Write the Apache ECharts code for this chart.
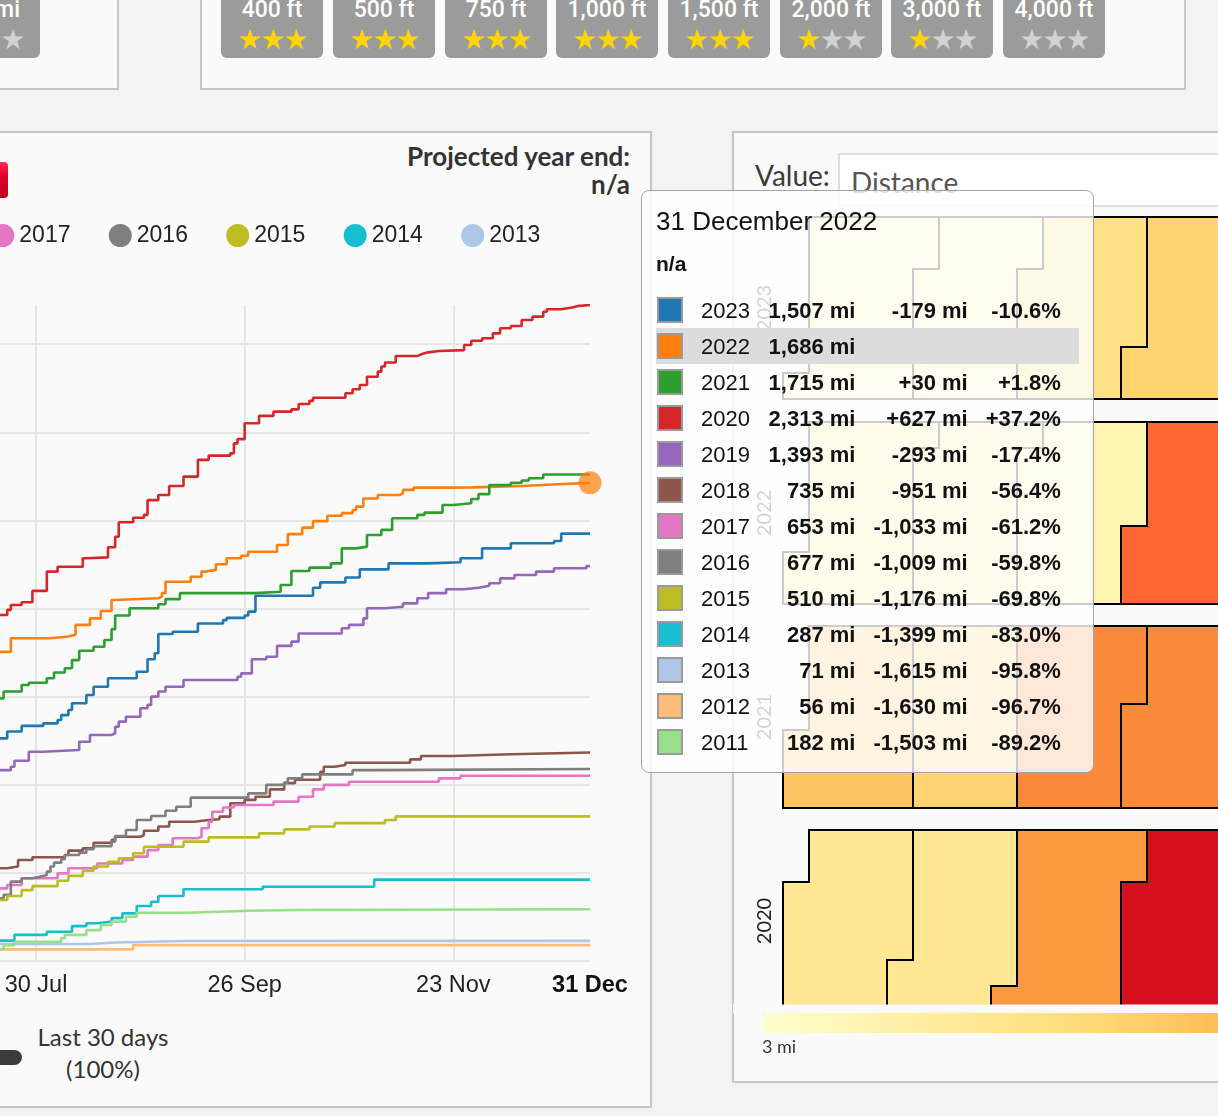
<!DOCTYPE html>
<html>
<head>
<meta charset="utf-8">
<title>Distance by year</title>
<script src="https://cdn.jsdelivr.net/npm/echarts@6.0.0/dist/echarts.min.js"></script>
<style>
html,body{margin:0;padding:0;}
body{width:1218px;height:1116px;overflow:hidden;position:relative;background:#f3f3f3;font-family:Lato,'Open Sans',sans-serif;color:#333;}
.panel{position:absolute;background:#fafafa;border:2px solid #c6c6c6;box-sizing:border-box;}
.btn{position:absolute;top:-34px;width:102px;height:92px;background:#9b9b9b;border-radius:0 0 6px 6px;}
.btn .t{position:absolute;left:0;right:0;top:31px;text-align:center;color:#fff;font:500 23px Roboto,sans-serif;line-height:26px;}
.btn .s{position:absolute;left:0;right:0;top:58px;text-align:center;font:28px 'DejaVu Sans',sans-serif;line-height:32px;letter-spacing:-2px;}
.on{color:#ffd400}.off{color:#d2d2d2}
#line{position:absolute;left:-760px;top:132px;width:1411px;height:975px;}
#cal{position:absolute;left:733px;top:132px;width:485px;height:950px;}
.proj{position:absolute;left:300px;width:330px;text-align:right;font-weight:bold;font-size:26px;line-height:28px;color:#333;}
</style>
</head>
<body>
<div class="panel" style="left:-10px;top:-10px;width:129px;height:100px;"></div>
<div class="btn" style="left:-62px;"><div class="t" style="text-align:right;padding-right:20px;">mi</div><div class="s"><span class="off">★★★</span></div></div>

<div class="panel" style="left:200px;top:-10px;width:986px;height:100px;"></div>
<div id="buttons"></div>

<div class="panel" style="left:-10px;top:131px;width:662px;height:977px;"></div>
<div style="position:absolute;left:-40px;top:162px;width:48px;height:36px;border-radius:4px;background:linear-gradient(#ff2a52,#e0002c 40%,#c0001c);"></div>
<div class="proj" style="top:142px;">Projected year end:</div>
<div class="proj" style="top:170px;">n/a</div>
<div style="position:absolute;left:3px;top:1021px;width:200px;text-align:center;font-size:24px;line-height:32px;color:#333;">Last 30 days<br>(100%)</div>
<div style="position:absolute;left:-20px;top:1050px;width:42px;height:15px;border-radius:8px;background:#3b3b3b;"></div>

<div class="panel" style="left:732px;top:131px;width:520px;height:952px;"></div>
<div style="position:absolute;left:755px;top:159px;font-size:28px;line-height:32px;color:#3a3a3a;">Value:</div>
<div style="position:absolute;left:838px;top:153px;width:420px;height:54px;box-sizing:border-box;border:2px solid #dedede;background:#fff;font-size:28px;line-height:54px;padding-left:11px;color:#555;">Distance</div>

<div id="cal"></div>
<div id="line"></div>

<script>
// ---------- buttons (elevation goals) ----------
const goalLabels = ['400 ft','500 ft','750 ft','1,000 ft','1,500 ft','2,000 ft','3,000 ft','4,000 ft'];
const goalStars  = [3,3,3,3,3,1,1,0];
(function(){
  const lefts = [221,333,445,556,668,780,891,1003];
  let h = '';
  goalLabels.forEach((g,i)=>{
    let s = '';
    for (let k=0;k<3;k++) s += '<span class="'+(k<goalStars[i]?'on':'off')+'">★</span>';
    h += '<div class="btn" style="left:'+lefts[i]+'px"><div class="t">'+g+'</div><div class="s">'+s+'</div></div>';
  });
  document.getElementById('buttons').innerHTML = h;
})();

// ---------- cumulative distance data: [day of year, miles] ----------
const years  = ['2023','2022','2021','2020','2019','2018','2017','2016','2015','2014','2013','2012','2011'];
const colors = ['#1f77b4','#ff7f0e','#2ca02c','#d62728','#9467bd','#8c564b','#e377c2','#7f7f7f','#bcbd22','#17becf','#aec7e8','#ffbb78','#98df8a'];

const d2023 = [[200,785],[203,809],[207,829],[213,838],[217,850],[218,867],[220,885],[221,909],[225,938],[227,967],[231,997],[239,1020],[242,1064],[244,1085],[245,1153],[249,1161],[256,1190],[263,1202],[264,1210],[269,1218],[270,1232],[272,1288],[288,1316],[290,1335],[297,1352],[301,1381],[309,1402],[320,1406],[329,1420],[335,1455],[343,1473],[355,1481],[357,1507],[365,1507]];
const d2022 = [[200,1090],[204,1138],[215,1144],[220,1150],[222,1185],[226,1208],[229,1234],[232,1273],[233,1279],[245,1285],[246,1297],[247,1337],[254,1355],[257,1373],[258,1379],[261,1399],[264,1420],[268,1429],[270,1443],[278,1467],[281,1505],[285,1528],[288,1551],[292,1570],[296,1579],[299,1590],[300,1602],[302,1631],[306,1643],[312,1649],[313,1661],[316,1669],[326,1670],[332,1675],[346,1681],[356,1685.9],[365,1685.9]];
const d2021 = [[200,926],[202,950],[207,973],[209,981],[214,997],[216,1017],[219,1032],[221,1061],[223,1094],[227,1108],[230,1132],[232,1170],[233,1218],[237,1244],[245,1258],[247,1276],[251,1297],[272,1302],[279,1326],[282,1375],[287,1387],[293,1402],[296,1455],[300,1461],[303,1502],[307,1520],[310,1561],[317,1573],[319,1581],[324,1608],[327,1614],[332,1629],[334,1646],[337,1678],[343,1686],[346,1694],[348,1702],[352,1715.45],[365,1715.45]];
const d2020 = [[200,1220],[203,1238],[204,1255],[207,1265],[210,1305],[214,1373],[217,1390],[224,1420],[225,1423],[231,1459],[233,1496],[234,1547],[238,1563],[241,1573],[242,1625],[245,1643],[248,1675],[252,1708],[256,1767],[259,1782],[265,1790],[266,1825],[267,1840],[269,1896],[273,1922],[277,1937],[282,1945],[284,1964],[287,1975],[288,1986],[297,2002],[299,2016],[301,2031],[303,2060],[306,2078],[307,2096],[308,2110],[311,2133],[317,2139],[318,2146],[320,2151],[323,2154],[330,2172],[332,2187],[335,2196],[338,2213],[340,2231],[343,2239],[346,2260],[349,2272],[352,2289],[353,2298],[357,2304],[360,2310],[362,2313],[365,2313]];
const d2019 = [[200,673],[204,685],[205,706],[209,738],[213,744],[223,773],[226,797],[232,803],[233,826],[234,844],[236,861],[240,891],[242,903],[243,932],[245,950],[247,967],[252,991],[267,1002],[268,1014],[271,1064],[275,1073],[278,1111],[282,1126],[284,1155],[296,1173],[298,1185],[302,1208],[303,1244],[308,1249],[313,1261],[317,1279],[320,1297],[325,1311],[330,1316],[334,1323],[337,1332],[340,1349],[344,1361],[350,1373],[355,1385],[364,1393],[365,1393]];
const d2018 = [[200,327],[203,333],[206,356],[210,366],[219,374],[220,389],[224,397],[227,417],[232,427],[233,438],[240,444],[241,459],[245,474],[248,491],[255,497],[259,500],[262,509],[265,556],[269,568],[272,579],[276,605],[280,627],[283,639],[290,667],[291,685],[294,691],[297,699],[315,711],[318,723],[327,729],[343,735],[365,735]];
const d2017 = [[200,256],[203,268],[207,292],[217,309],[220,327],[228,344],[235,356],[238,368],[242,391],[245,409],[249,433],[256,438],[257,468],[259,491],[260,526],[263,541],[266,550],[277,562],[284,579],[288,605],[291,621],[298,632],[323,644],[329,653.35],[365,653.35]];
const d2016 = [[200,221],[202,233],[204,280],[207,292],[210,297],[212,303],[214,315],[215,333],[216,347],[218,359],[219,374],[223,382],[225,394],[227,405],[232,421],[233,441],[236,462],[239,497],[243,511],[247,530],[250,544],[254,576],[270,591],[275,621],[280,629],[281,644],[285,658],[299,673],[306,677],[365,677]];
const d2015 = [[200,215],[203,229],[207,250],[210,264],[217,283],[220,300],[224,318],[227,333],[231,350],[234,362],[238,380],[241,403],[252,421],[259,436],[273,450],[280,464],[287,474],[294,486],[308,497],[311,509.9],[365,509.9]];
const d2014 = [[200,72],[205,92],[214,103],[221,123],[225,133],[228,139],[232,151],[235,168],[239,194],[243,209],[245,229],[252,253],[274,262],[305,287],[365,287]];
const d2013 = [[200,60],[226,65],[233,70.5],[252,71],[365,71]];
const d2012 = [[200,41],[238,56],[365,56]];
const d2011 = [[200,41],[202,56],[205,68],[218,80],[219,92],[225,109],[229,127],[232,139],[236,156],[239,170],[253,177],[270,180],[284,182.45],[365,182.45]];
const seriesData = [d2023,d2022,d2021,d2020,d2019,d2018,d2017,d2016,d2015,d2014,d2013,d2012,d2011];

const xTickDays  = [37,95,153,211,269,327];
const xLabelDays = [37,95,153,211,269,327,365];
const monthShort = ['Jan','Feb','Mar','Apr','May','Jun','Jul','Aug','Sep','Oct','Nov','Dec'];
const monthLong  = ['January','February','March','April','May','June','July','August','September','October','November','December'];
const yGridMiles = 500/1.609344;   // grid every 500 km, shown in miles
const hoverYear = '2022';
const hoverDay  = 365;

const hoverIdx = years.indexOf(hoverYear);
const yearEnd = seriesData.map(s => s[s.length-1][1]);
const refDate = new Date(+hoverYear,0,hoverDay);

function fmtMi(v){ return Math.round(v).toLocaleString('en-US'); }
function dayLabel(v){ const d = new Date(+hoverYear,0,v); return d.getDate()+' '+monthShort[d.getMonth()]; }

function tipHtml(){
  const ref = yearEnd[hoverIdx];
  const td = 'padding:0;white-space:nowrap;';
  let rows = '';
  years.forEach((y,i)=>{
    const v = yearEnd[i], diff = v - ref, hi = i===hoverIdx;
    const sign = diff >= 0 ? '+' : '-';
    rows += '<tr style="height:36px;'+(hi?'background:#dcdcdc;':'')+'">'
      + '<td style="'+td+'width:45px;"><div style="width:26px;height:26px;box-sizing:border-box;border:2px solid #9a9a9a;background:'+colors[i]+';margin-left:1px;"></div></td>'
      + '<td style="'+td+'width:58px;">'+y+'</td>'
      + '<td style="'+td+'width:96px;text-align:right;font-weight:bold;">'+fmtMi(v)+' mi</td>'
      + '<td style="'+td+'width:112px;text-align:right;font-weight:bold;">'+(hi?'':sign+fmtMi(Math.abs(diff))+' mi')+'</td>'
      + '<td style="'+td+'width:93px;text-align:right;font-weight:bold;">'+(hi?'':sign+(Math.abs(diff)/ref*100).toFixed(1)+'%')+'</td>'
      + '<td style="'+td+'width:18px;"></td></tr>';
  });
  return '<div style="font-family:\'Liberation Sans\',Arial,sans-serif;color:#111;">'
    + '<div style="font-size:26px;line-height:32px;margin-top:2px;">'+refDate.getDate()+' '+monthLong[refDate.getMonth()]+' '+refDate.getFullYear()+'</div>'
    + '<div style="font-size:21px;line-height:30px;font-weight:bold;margin-top:12px;">n/a</div>'
    + '<table style="border-collapse:collapse;margin-top:13px;width:423px;font-size:22px;table-layout:fixed;">'+rows+'</table></div>';
}

const lineChart = echarts.init(document.getElementById('line'), null, {renderer:'canvas'});
const series = years.map((y,i)=>({
  name: y, type:'line', step:'end', data: seriesData[i], color: colors[i],
  showSymbol:false, symbol:'none', silent:true, lineStyle:{width:2.6},
  emphasis:{disabled:true}, animation:false
}));
series.push({
  name:'hover', type:'scatter', clip:false, z:5, animation:false,
  data:[[hoverDay, yearEnd[hoverIdx]]], symbolSize:23,
  itemStyle:{color:colors[hoverIdx], opacity:0.72}
});
lineChart.setOption({
  animation:false,
  legend:{
    data: years, icon:'circle', itemWidth:23, itemHeight:23, itemGap:38.3,
    left:46.5, top:92, width:1340, padding:0, selectedMode:false,
    textStyle:{fontSize:23, fontFamily:'Liberation Sans', color:'#222'}
  },
  grid:{left:40.6, right:61, top:173, bottom:146},
  xAxis:{
    type:'value', min:1, max:365,
    axisLine:{show:false},
    axisTick:{show:false, customValues:xTickDays},
    splitLine:{show:true, lineStyle:{color:'#e6e6e6', width:2}},
    axisLabel:{customValues:xLabelDays, margin:13, fontSize:23.5, fontFamily:'Liberation Sans', color:'#222',
      formatter:v => v===365 ? '{b|'+dayLabel(v)+'}' : dayLabel(v),
      rich:{b:{fontWeight:'bold', fontSize:23.5, fontFamily:'Liberation Sans', color:'#111'}}}
  },
  yAxis:{
    type:'value', min:0, max:'dataMax', interval:yGridMiles,
    axisLine:{show:false}, axisTick:{show:false}, axisLabel:{show:false},
    splitLine:{show:true, showMaxLine:false, lineStyle:{color:'#e6e6e6', width:2}}
  },
  tooltip:{
    trigger:'item', triggerOn:'none', alwaysShowContent:true, transitionDuration:0,
    backgroundColor:'rgba(255,255,255,0.8)', borderColor:'#a3a3a3', borderWidth:1.5, borderRadius:8,
    padding:[12,14], shadowBlur:0, shadowColor:'transparent', shadowOffsetX:0, shadowOffsetY:0,
    extraCssText:'box-shadow:none;',
    textStyle:{fontFamily:'Liberation Sans', fontSize:22, color:'#111'},
    position:function(){ return [1401, 58]; },
    formatter:function(){ return tipHtml(); }
  },
  series: series
});
lineChart.dispatchAction({type:'showTip', seriesIndex: years.length, dataIndex:0});

// ---------- calendar heat map (monthly distance) ----------
const calYears = [2023, 2022, 2021, 2020];
const monthly2023 = [16, 18, 37, 48];
const monthly2022 = [24, 20, 16, 100];
const monthly2021 = [55, 47, 88, 88];
const monthly2020 = [30, 30, 80, 136];
const monthlyByYear = [monthly2023, monthly2022, monthly2021, monthly2020];
const scaleColors = ['#ffffcc','#ffeda0','#fed976','#feb24c','#fd8d3c','#fc4e2a','#e31a1c','#bd0026'];
const scaleMin = 3, scaleMax = 150;

function pad(n){ return (n<10?'0':'')+n; }
const calTops = [85, 290, 494, 698];
const calendars = [], calSeries = [];
calYears.forEach((yr,i)=>{
  calendars.push({
    left:50, top:calTops[i], cellSize:[26,26], orient:'horizontal', range:String(yr),
    splitLine:{show:true, lineStyle:{color:'#000', width:2}},
    itemStyle:{color:'rgba(0,0,0,0)', borderWidth:0},
    dayLabel:{show:false, firstDay:1}, monthLabel:{show:false},
    yearLabel:{show:true, position:'left', margin:8, color:'#222', fontWeight:'normal', fontSize:20, fontFamily:'Lato'}
  });
  const data = [];
  monthlyByYear[i].forEach((val,m)=>{
    const nd = new Date(yr, m+1, 0).getDate();
    for (let d=1; d<=nd; d++) data.push([yr+'-'+pad(m+1)+'-'+pad(d), val]);
  });
  calSeries.push({type:'heatmap', coordinateSystem:'calendar', calendarIndex:i, data:data,
    itemStyle:{borderWidth:0}, silent:true, animation:false});
});
const calChart = echarts.init(document.getElementById('cal'));
calChart.setOption({
  animation:false,
  calendar: calendars,
  visualMap:{type:'continuous', min:scaleMin, max:scaleMax, orient:'horizontal', left:30, top:881, padding:0,
    itemWidth:20, itemHeight:1170, calculable:false, z:10, seriesIndex:[0,1,2,3],
    inRange:{color:scaleColors}},
  graphic:[
    {type:'rect', left:0, top:872.5, z:5, shape:{width:485, height:9}, style:{fill:'#fafafa'}},
    {type:'text', left:29, top:906, z:6, style:{text:scaleMin+' mi', fontSize:18, fontFamily:'Lato', fill:'#333'}}
  ],
  series: calSeries
});
</script>
</body>
</html>
